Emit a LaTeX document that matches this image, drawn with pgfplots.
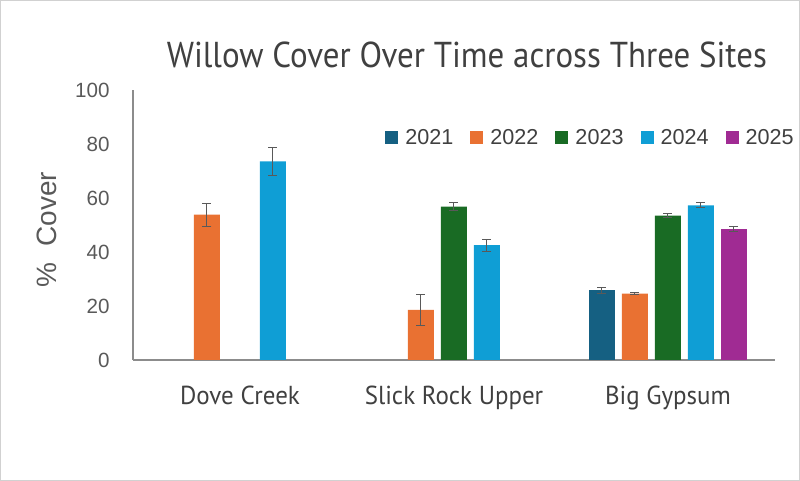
\documentclass[border=0pt]{standalone}
\usepackage{fontspec}
\setmainfont{Liberation Sans}
\newfontfamily\narrow[FakeStretch=0.915]{PT Sans}
\newfontfamily\catfont[FakeStretch=0.96]{PT Sans}
\usepackage{pgfplots}
\pgfplotsset{compat=1.18}
\definecolor{c21}{HTML}{156082}
\definecolor{c22}{HTML}{E97132}
\definecolor{c23}{HTML}{196B24}
\definecolor{c24}{HTML}{0F9ED5}
\definecolor{c25}{HTML}{A02B93}
\definecolor{axisgray}{HTML}{8C8C8C}
\definecolor{txt}{HTML}{595959}
\definecolor{ttl}{HTML}{404040}
\definecolor{errc}{HTML}{595959}
\begin{document}
\begin{tikzpicture}
\useasboundingbox (0,0) rectangle (400pt,240.5pt);
\draw[line width=0.5pt, color=black!18] (0.25pt,0.25pt) rectangle (399.75pt,240.25pt);
\begin{axis}[
  at={(66.5pt,60.5pt)}, anchor=south west,
  scale only axis, width=321pt, height=135pt,
  xmin=-0.5, xmax=2.5, ymin=0, ymax=100,
  axis x line*=bottom, axis y line*=left,
  axis line style={color=axisgray, line width=0.6pt, -},
  ybar, bar width=13pt,
  xtick={0,1,2},
  xticklabels={Dove Creek, Slick Rock Upper, Big Gypsum},
  ytick={0,20,40,60,80,100},
  major tick length=0pt,
  /pgf/number format/assume math mode=true,
  yticklabel style={font=\fontsize{10.3}{12}\selectfont, text=txt, inner sep=0pt, anchor=east, xshift=-11.5pt},
  xticklabel style={font=\catfont\fontsize{13}{15}\selectfont, text=ttl, inner sep=0pt, anchor=base, yshift=-22.5pt},
  ylabel={\%\ \ Cover},
  ylabel style={font=\fontsize{14}{16}\selectfont, text=txt, at={(axis description cs:-0.134,0.483)}, anchor=center, inner sep=0pt},
  title={Willow Cover Over Time across Three Sites},
  title style={font=\narrow\fontsize{18}{21}\selectfont, text=ttl, at={(axis description cs:0.52,1)}, anchor=base, yshift=5pt, inner sep=0pt},
  legend columns=5,
  legend style={draw=none, fill=none, at={(126pt,111pt)}, anchor=west, inner sep=0pt,
    font=\fontsize{10.8}{12}\selectfont, text=ttl,
    nodes={inner sep=0pt},
    /tikz/every even column/.append style={column sep=8.5pt},
    /tikz/every odd column/.append style={column sep=3.5pt}},
  legend image code/.code={\fill[#1] (0pt,-3.25pt) rectangle (6.5pt,3.25pt);},
  error bars/y dir=both, error bars/y explicit,
  error bars/error bar style={color=errc, line width=0.5pt},
  error bars/error mark options={color=errc, rotate=90, mark size=2.25pt, line width=0.5pt},
]
\addplot[fill=c21, draw=none, bar shift=-33pt] coordinates {(2,25.9) +- (0,1.1)};
\addplot[fill=c22, draw=none, bar shift=-16.5pt] coordinates {(0,53.8) +- (0,4.3) (1,18.6) +- (0,5.8) (2,24.6) +- (0,0.3)};
\addplot[fill=c23, draw=none, bar shift=0pt] coordinates {(1,56.8) +- (0,1.4) (2,53.5) +- (0,0.6)};
\addplot[fill=c24, draw=none, bar shift=16.5pt] coordinates {(0,73.6) +- (0,5.1) (1,42.5) +- (0,2.2) (2,57.3) +- (0,1.0)};
\addplot[fill=c25, draw=none, bar shift=33pt] coordinates {(2,48.6) +- (0,1.0)};
\legend{2021,2022,2023,2024,2025}
\end{axis}
\end{tikzpicture}
\end{document}
